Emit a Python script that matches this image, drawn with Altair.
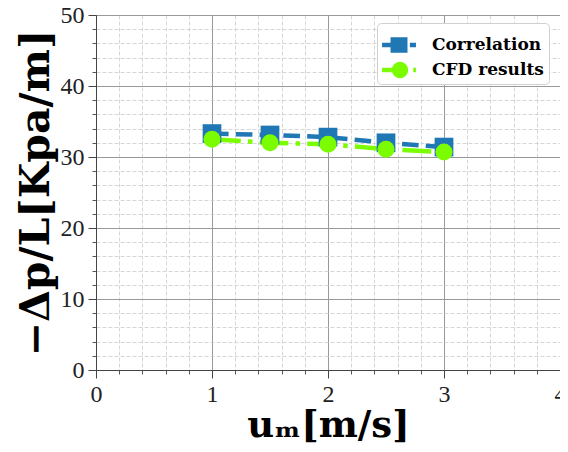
import altair as alt
import pandas as pd

x_vals = [1.0, 1.5, 2.0, 2.5, 3.0]
corr_vals = [33.3, 33.1, 32.8, 32.0, 31.4]
cfd_vals = [32.5, 32.0, 31.8, 31.1, 30.7]
series_names = ["Correlation", "CFD results"]
colors = ["#1f77b4", "#7cfc00"]

x_major = [0, 1, 2, 3, 4]
x_minor = [round(0.2 * i, 1) for i in range(21)]
y_major = [0, 10, 20, 30, 40, 50]
y_minor = list(range(0, 51, 2))

rows = []
for xv, c, f in zip(x_vals, corr_vals, cfd_vals):
    rows.append({"x": xv, "y": c, "series": "Correlation"})
    rows.append({"x": xv, "y": f, "series": "CFD results"})
df = pd.DataFrame(rows)

SERIF = "Liberation Serif"
BOLD = "DejaVu Serif"

xscale = alt.Scale(domain=[0, 4], nice=False, zero=False)
yscale = alt.Scale(domain=[0, 50], nice=False, zero=False)

corr_path = ("M-1,-0.14 L-0.5,-0.14 L-0.5,0.14 L-1,0.14 Z "
             "M-0.5,-0.46 L0.5,-0.46 L0.5,0.46 L-0.5,0.46 Z "
             "M0.64,-0.14 L1,-0.14 L1,0.14 L0.64,0.14 Z")
cfd_path = ("M-1,-0.14 L-0.42,-0.14 L-0.42,0.14 L-1,0.14 Z "
            "M-0.42,0 A0.48,0.48 0 1,0 0.54,0 A0.48,0.48 0 1,0 -0.42,0 Z "
            "M0.84,-0.14 L1,-0.14 L1,0.14 L0.84,0.14 Z")

minor = alt.Chart(df).mark_point(opacity=0).encode(
    x=alt.X("x:Q", scale=xscale,
            axis=alt.Axis(values=x_minor, orient="bottom", labels=False, title=None,
                          grid=True, gridColor="#cccccc", gridDash=[4, 2], gridWidth=0.8,
                          tickSize=4, tickColor="#555555", domain=False)),
    y=alt.Y("y:Q", scale=yscale,
            axis=alt.Axis(values=y_minor, orient="left", labels=False, title=None,
                          grid=True, gridColor="#cccccc", gridDash=[4, 2], gridWidth=0.8,
                          tickSize=4, tickColor="#555555", domain=False)),
)

major = alt.Chart(df).mark_point(opacity=0).encode(
    x=alt.X("x:Q", scale=xscale,
            axis=alt.Axis(values=x_major, orient="bottom", format="d",
                          title="uₘ[m/s]", titleFont=BOLD, titleFontSize=37,
                          titleFontWeight="bold", titleColor="black", titlePadding=1,
                          labelFont=SERIF, labelFontSize=24, labelColor="#222222",
                          labelPadding=4, labelFlush=False, labelOverlap=False,
                          grid=True, gridColor="#999999", gridWidth=1,
                          tickSize=8, tickColor="#444444", domain=True, domainColor="#444444")),
    y=alt.Y("y:Q", scale=yscale,
            axis=alt.Axis(values=y_major, orient="left", format="d",
                          title="−Δp/L[Kpa/m]", titleFont=BOLD, titleFontSize=41,
                          titleFontWeight="bold", titleColor="black", titlePadding=3,
                          labelFont=SERIF, labelFontSize=24, labelColor="#222222",
                          labelPadding=4, labelFlush=False, labelOverlap=False,
                          grid=True, gridColor="#999999", gridWidth=1,
                          tickSize=8, tickColor="#444444", domain=True, domainColor="#444444")),
)

lines = alt.Chart(df).mark_line(strokeWidth=4.5).encode(
    x=alt.X("x:Q", scale=xscale, axis=None),
    y=alt.Y("y:Q", scale=yscale, axis=None),
    color=alt.Color("series:N", scale=alt.Scale(domain=series_names, range=colors), legend=None),
    strokeDash=alt.StrokeDash("series:N",
                              scale=alt.Scale(domain=series_names,
                                              range=[[16.6, 7.2], [28.8, 7.2, 4.5, 7.2]]),
                              legend=None),
)

squares = alt.Chart(df).transform_filter(alt.datum.series == "Correlation").mark_square(
    size=350, opacity=1).encode(
    x=alt.X("x:Q", scale=xscale, axis=None),
    y=alt.Y("y:Q", scale=yscale, axis=None),
    color=alt.Color("series:N", scale=alt.Scale(domain=series_names, range=colors), legend=None),
)

circles = alt.Chart(df).transform_filter(alt.datum.series == "CFD results").mark_circle(
    size=290, opacity=1).encode(
    x=alt.X("x:Q", scale=xscale, axis=None),
    y=alt.Y("y:Q", scale=yscale, axis=None),
    color=alt.Color("series:N", scale=alt.Scale(domain=series_names, range=colors), legend=None),
)

leg = alt.Legend(title=None, orient="none", legendX=281, legendY=8,
                 labelFont=BOLD, labelFontSize=17, labelFontWeight="bold",
                 labelColor="black", symbolSize=1150, symbolOpacity=1,
                 symbolStrokeWidth=0, rowPadding=-9, padding=5,
                 fillColor="white", strokeColor="#d0d0d0", cornerRadius=4,
                 labelOffset=16)

dummy = alt.Chart(df).mark_point(opacity=0, filled=True).encode(
    x=alt.X("x:Q", scale=xscale, axis=None),
    y=alt.Y("y:Q", scale=yscale, axis=None),
    fill=alt.Fill("series:N", scale=alt.Scale(domain=series_names, range=colors),
                  legend=leg, sort=series_names),
    shape=alt.Shape("series:N", scale=alt.Scale(domain=series_names,
                                                range=[corr_path, cfd_path]),
                    legend=leg, sort=series_names),
)

chart = alt.layer(minor, major, lines, squares, circles, dummy).resolve_axis(
    x="independent", y="independent"
).resolve_scale(shape="independent", fill="independent").properties(
    width=464, height=355,
    padding={"left": 88, "top": 7, "right": 0, "bottom": 74},
    autosize=alt.AutoSizeParams(type="none"),
).configure_view(stroke="#222222", strokeWidth=1).configure(background="white")

chart.save("out.html", embed_options={"renderer": "svg", "actions": False})
